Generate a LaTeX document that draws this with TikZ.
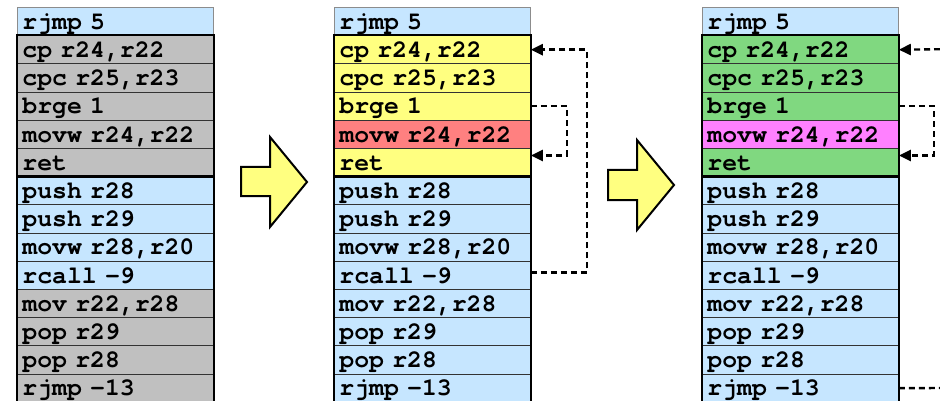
\documentclass[tikz,border=0pt]{standalone}
\usepackage{fontspec}
\newfontfamily\codefont{texgyrecursor}[Extension=.otf, UprightFont=*-bold, BoldFont=*-bold]
\DeclareRobustCommand\codesetup{\fontsize{24.8pt}{28pt}\codefont\spaceskip=0.6em\relax\xspaceskip=0.6em\relax}
\usetikzlibrary{arrows.meta}
\definecolor{blu}{HTML}{C6E6FF}
\definecolor{gry}{HTML}{C0C0C0}
\definecolor{yel}{HTML}{FFFF80}
\definecolor{rd}{HTML}{FF8080}
\definecolor{grn}{HTML}{80D880}
\definecolor{mag}{HTML}{FF80FF}
\definecolor{rowline}{HTML}{333333}
\definecolor{hdline}{HTML}{8C8C8C}
\colorlet{c1hd}{blu}\colorlet{c1fn}{gry}\colorlet{c1hl}{gry}\colorlet{c1mn}{blu}\colorlet{c1tl}{gry}
\colorlet{c2hd}{blu}\colorlet{c2fn}{yel}\colorlet{c2hl}{rd}\colorlet{c2mn}{blu}\colorlet{c2tl}{blu}
\colorlet{c3hd}{blu}\colorlet{c3fn}{grn}\colorlet{c3hl}{mag}\colorlet{c3mn}{blu}\colorlet{c3tl}{blu}
\tikzset{
  coderow/.style={rectangle, line width=0.8pt, minimum width=196pt, minimum height=28.2pt,
    text width=186pt, inner xsep=5pt, inner ysep=0pt, text height=20.6pt, text depth=5pt,
    anchor=north west, align=left, font=\codesetup},
  groupbox/.style={draw=black, line width=2.2pt},
  flow/.style={draw=black, line width=2.4pt, dash pattern=on 6pt off 4pt,
    -{Triangle[length=12pt,width=11pt]}},
  flowplain/.style={draw=black, line width=2.4pt, dash pattern=on 6pt off 4pt},
  bigarrow/.style={fill=yel, draw=black, line width=2pt, line join=miter}
}
\begin{document}
\begin{tikzpicture}[x=1pt,y=1pt]
\useasboundingbox (0,0) rectangle (940,-401);
\foreach \c/\x in {1/17,2/334,3/702}{
  \foreach \t/\k/\b [count=\r from 0] in {{rjmp 5}/hd/hdline, {cp r24,r22}/fn/rowline,
      {cpc r25,r23}/fn/rowline, {brge 1}/fn/rowline, {movw r24,r22}/hl/rowline,
      {ret}/fn/rowline, {push r28}/mn/rowline, {push r29}/mn/rowline,
      {movw r28,r20}/mn/rowline, {rcall -9}/mn/rowline, {mov r22,r28}/tl/rowline,
      {pop r29}/tl/rowline, {pop r28}/tl/rowline, {rjmp -13}/tl/rowline}{
    \node[coderow, fill=c\c\k, draw=\b] (c\c-\r) at (\x, {-7-28.2*\r}) {\t};
  }
  \draw[groupbox] (c\c-1.north west) rectangle (c\c-5.south east);
  \draw[groupbox] (c\c-6.north west) rectangle (c\c-13.south east);
}
% block arrows
\draw[bigarrow] (241,-167) -- (270,-167) -- (270,-137) -- (307,-182) -- (270,-227) -- (270,-196) -- (241,-196) -- cycle;
\draw[bigarrow] (608,-170) -- (637,-170) -- (637,-140) -- (674,-185) -- (637,-230) -- (637,-200) -- (608,-200) -- cycle;
% column 2 control flow
\draw[flow] (c2-3.east) -- ++(36,0) |- ([yshift=7pt]c2-5.east);
\draw[flow] ([yshift=3pt]c2-9.east) -- ++(56,0) |- (c2-1.east);
% column 3 control flow
\coordinate (out1) at (960,-49);
\coordinate (out2) at (960,-388);
\draw[flow] (out1) -- (c3-1.east);
\draw[flow] (c3-3.east) -- ++(35,0) |- ([yshift=7pt]c3-5.east);
\draw[flowplain] (c3-13.east) -- (out2);
\end{tikzpicture}
\end{document}
